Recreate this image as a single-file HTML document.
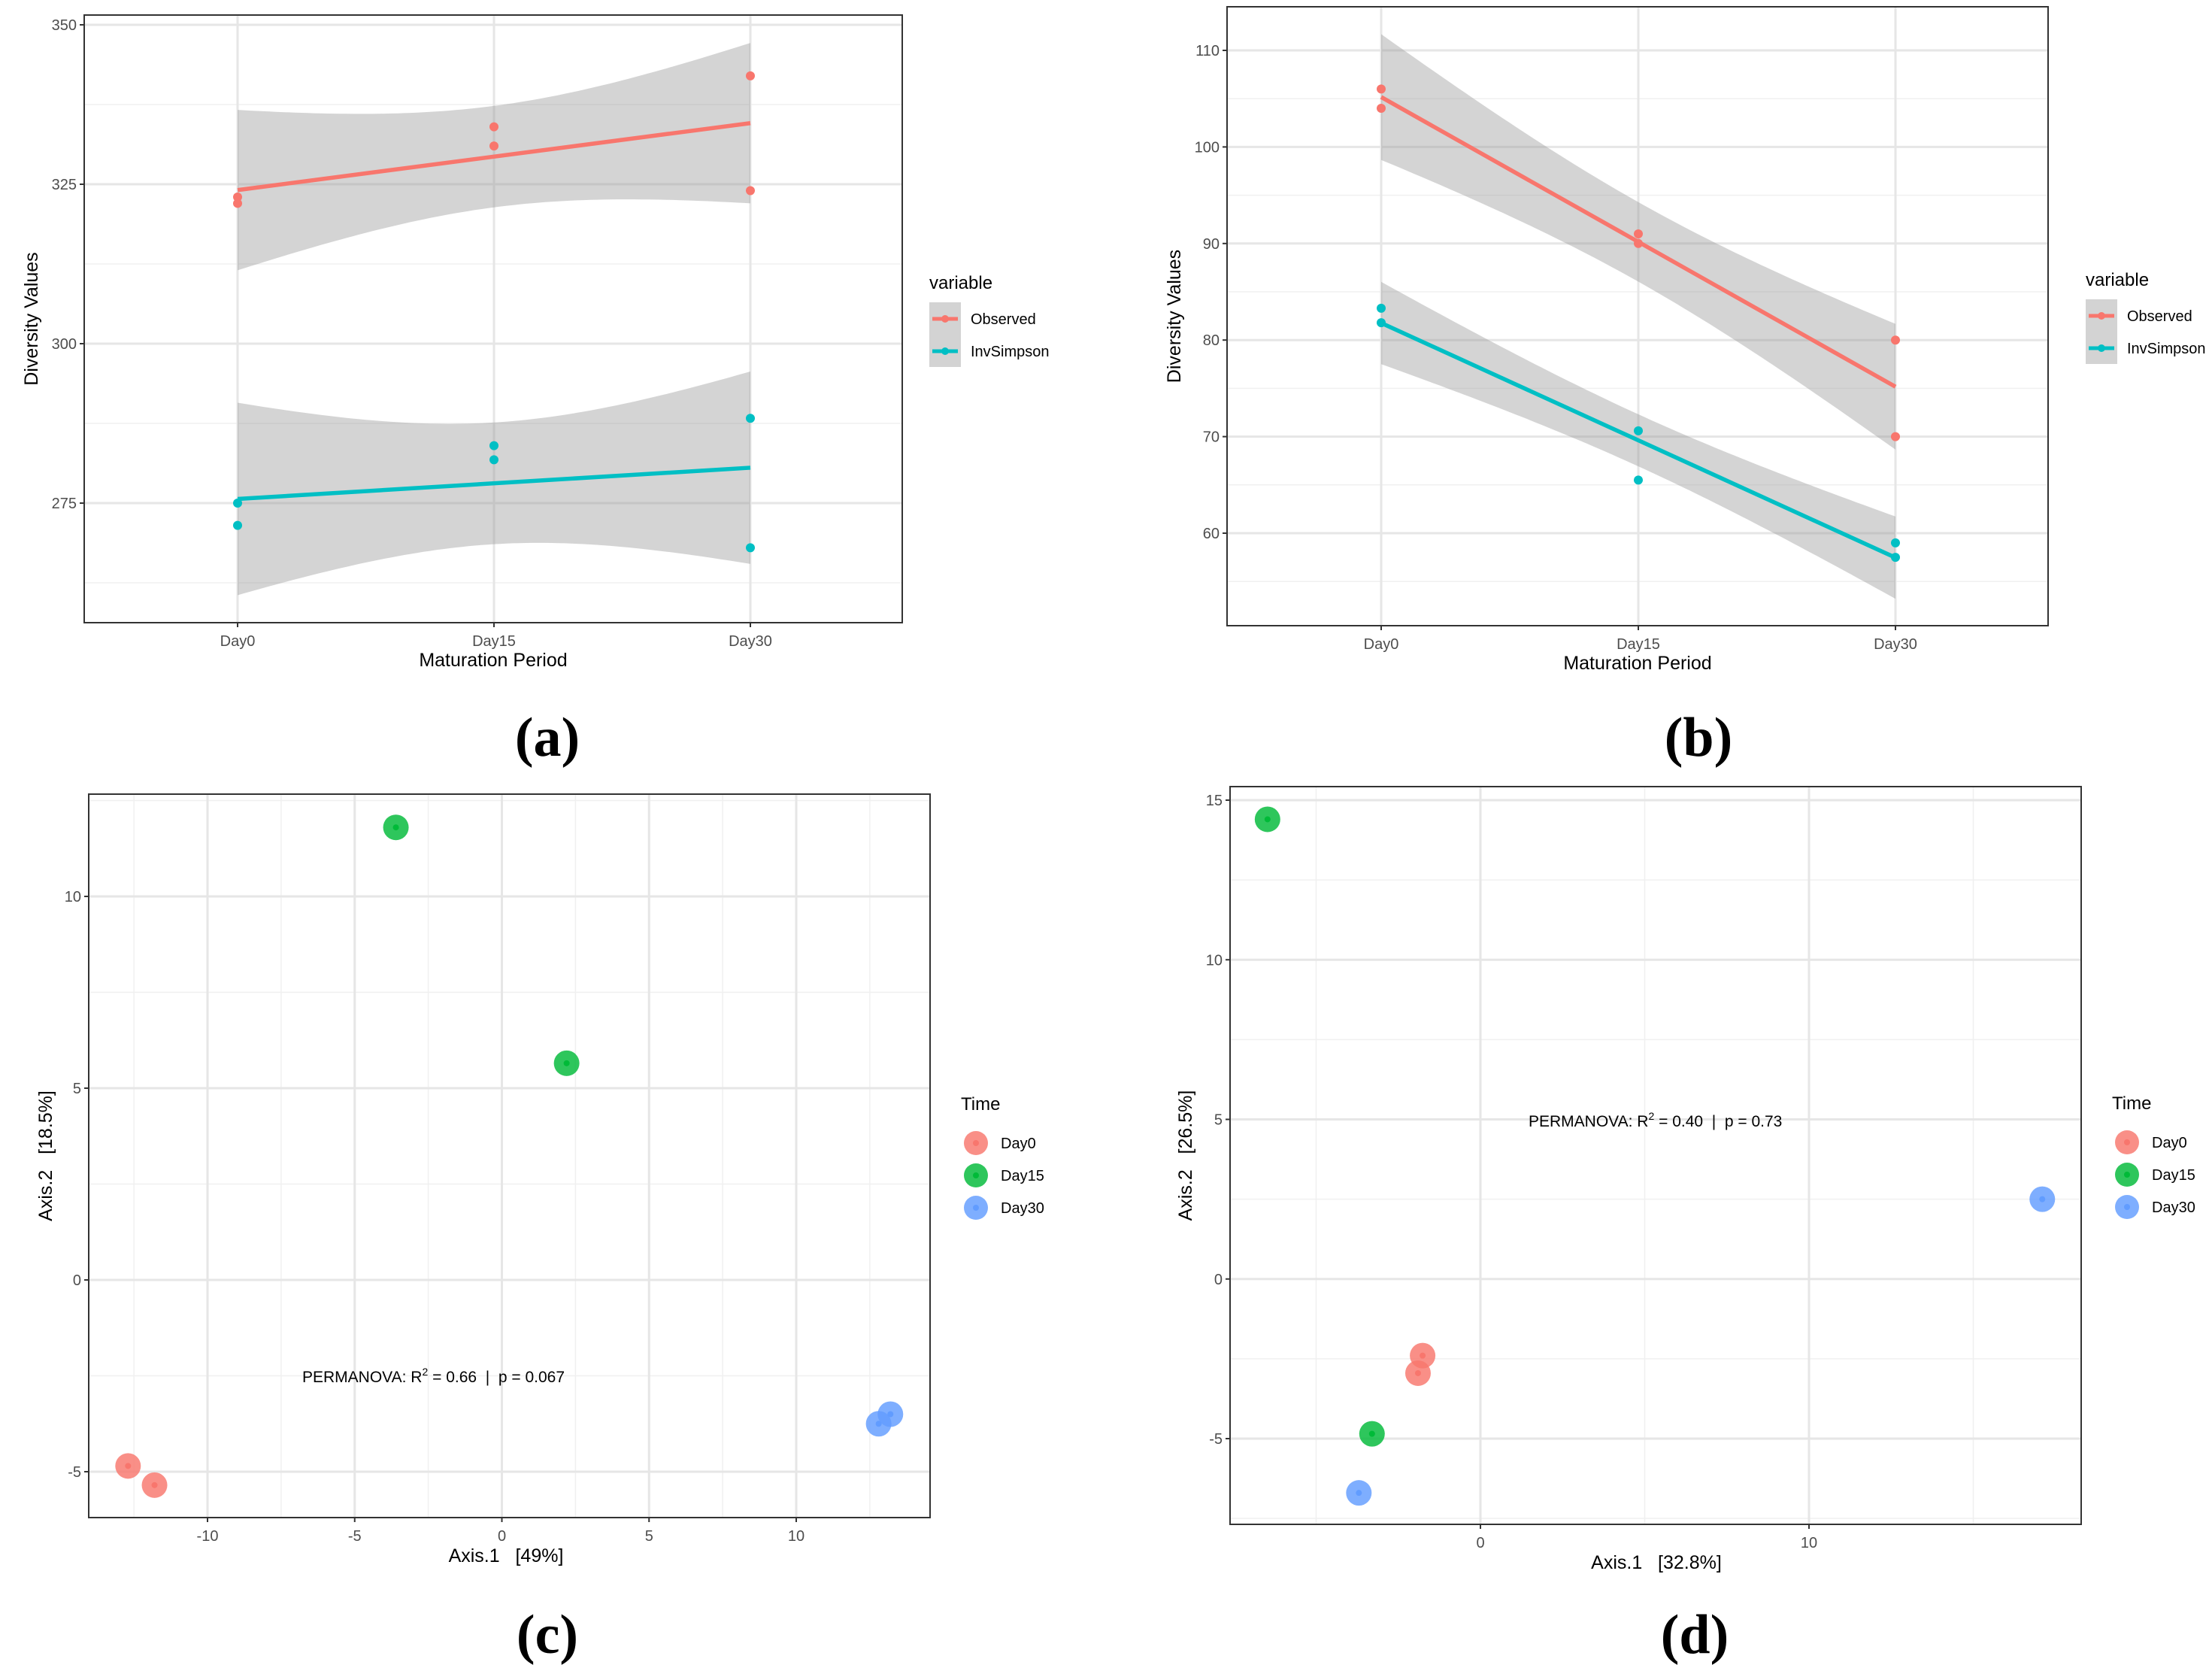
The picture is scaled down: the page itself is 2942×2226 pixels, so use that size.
<!DOCTYPE html>
<html><head><meta charset="utf-8">
<style>
html,body{margin:0;padding:0;background:#fff;}
svg{display:block;font-family:"Liberation Sans",Arial,sans-serif;}
.pre{white-space:pre;}
</style></head>
<body>
<svg id="root" width="2942" height="2226" viewBox="0 0 2942 2226" xmlns="http://www.w3.org/2000/svg"></svg>
<script>
// ---------- Data ----------
const days = ["Day0","Day15","Day30"];
const aObsX = [0,0,1,1,2,2];
const aObsY = [323,322,334,331,342,324];
const aInvY = [275,271.5,284,281.8,288.3,268];
const bObsY = [106,104,91,90,80,70];
const bInvY = [83.3,81.8,70.6,65.5,59,57.5];
const aTicks = [275,300,325,350];
const bTicks = [60,70,80,90,100,110];
const cGroup = ["Day0","Day0","Day15","Day15","Day30","Day30"];
const cAx1 = [-12.7,-11.8,-3.6,2.2,12.8,13.2];
const cAx2 = [-4.85,-5.35,11.8,5.65,-3.75,-3.5];
const dGroup = ["Day0","Day0","Day15","Day15","Day30","Day30"];
const dAx1 = [-1.76,-1.9,-6.48,-3.3,17.1,-3.7];
const dAx2 = [-2.4,-2.95,14.4,-4.85,2.5,-6.7];
const cXTicks = [-10,-5,0,5,10];
const cYTicks = [-5,0,5,10];
const dXTicks = [0,10];
const dYTicks = [-5,0,5,10,15];

const NS="http://www.w3.org/2000/svg";
const root=document.getElementById('root');
function el(tag,attrs,parent){const e=document.createElementNS(NS,tag);for(const k in attrs)e.setAttribute(k,attrs[k]);(parent||root).appendChild(e);return e;}
function txt(s,attrs,parent){const e=el('text',attrs,parent);e.textContent=s;return e;}
const COL={Observed:"#F8766D",InvSimpson:"#00BFC4",Day0:"#F8766D",Day15:"#00BA38",Day30:"#619CFF"};

function linScale(d0,d1,r0,r1){return v=>r0+(v-d0)/(d1-d0)*(r1-r0);}

const tTable={1:12.706,2:4.303,3:3.182,4:2.776,5:2.571,6:2.447,7:2.365,8:2.306};
function fit(xs,ys){
  const n=xs.length;const mx=xs.reduce((a,b)=>a+b)/n;const my=ys.reduce((a,b)=>a+b)/n;
  let sxx=0,sxy=0;for(let i=0;i<n;i++){sxx+=(xs[i]-mx)**2;sxy+=(xs[i]-mx)*(ys[i]-my);}
  const b=sxy/sxx,a=my-b*mx;let ss=0;for(let i=0;i<n;i++)ss+=(ys[i]-a-b*xs[i])**2;
  const s=Math.sqrt(ss/(n-2));const t=tTable[n-2]||1.96;
  return {a,b,ci:x=>t*s*Math.sqrt(1/n+(x-mx)**2/sxx)};
}

function panelBox(g,L,T,R,B){el('rect',{x:L,y:T,width:R-L,height:B-T,fill:'#fff',stroke:'none'},g);}
function frame(g,L,T,R,B,name){const f=el('rect',{x:L,y:T,width:R-L,height:B-T,fill:'none',stroke:'#333',"stroke-width":2},g);}

function linePanel(cfg){
  const g=el('g',{});
  
  
  const {L,T,R,B}=cfg;
  const xs=linScale(0,2,cfg.x0,cfg.x2);
  const ys=linScale(cfg.tk0,cfg.tk1,cfg.ytk0,cfg.ytk1);
  panelBox(g,L,T,R,B);
  const step=cfg.ticks[1]-cfg.ticks[0];
  for(let v=cfg.ticks[0]-step*2;v<=cfg.ticks[cfg.ticks.length-1]+step*2;v+=step){
    const y=ys(v+step/2); if(y>T&&y<B){el('line',{x1:L,x2:R,y1:y,y2:y,stroke:'#f0f0f0','stroke-width':1.5},g);}
  }
  cfg.ticks.forEach(v=>{const y=ys(v);el('line',{x1:L,x2:R,y1:y,y2:y,stroke:'#e6e6e6','stroke-width':3},g);});
  days.forEach((d,i)=>{const x=xs(i);el('line',{x1:x,x2:x,y1:T,y2:B,stroke:'#e6e6e6','stroke-width':3},g);});
  cfg.series.forEach(s=>{
    const f=fit(aObsX,s.y);
    let up=[],lo=[];
    for(let k=0;k<=80;k++){const x=2*k/80;const m=f.a+f.b*x;const c=f.ci(x);up.push(xs(x).toFixed(1)+','+ys(m+c).toFixed(1));lo.unshift(xs(x).toFixed(1)+','+ys(m-c).toFixed(1));}
    const rb=el('polygon',{points:up.concat(lo).join(' '),fill:'#999999','fill-opacity':0.42},g);
    
    
  });
  cfg.series.forEach(s=>{
    const f=fit(aObsX,s.y);
    const ln=el('line',{x1:xs(0),y1:ys(f.a),x2:xs(2),y2:ys(f.a+2*f.b),stroke:COL[s.key],'stroke-width':5.5},g);
    
    
    s.y.forEach((v,i)=>{
      const p=el('circle',{cx:xs(aObsX[i]),cy:ys(v),r:6,fill:COL[s.key]},g);
      
      
    });
  });
  frame(g,L,T,R,B,'plot-frame');
  cfg.ticks.forEach(v=>{const y=ys(v);el('line',{x1:L-6,x2:L,y1:y,y2:y,stroke:'#333','stroke-width':2},g);
    const t=txt(String(v),{x:L-10,y:y+7,'text-anchor':'end','font-size':20,fill:'#4d4d4d'},g);
    });
  days.forEach((d,i)=>{const x=xs(i);el('line',{x1:x,x2:x,y1:B,y2:B+6,stroke:'#333','stroke-width':2},g);
    const t=txt(d,{x:x,y:B+31,'text-anchor':'middle','font-size':20,fill:'#4d4d4d'},g);
    });
  const xt=txt('Maturation Period',{x:(L+R)/2,y:B+58,'text-anchor':'middle','font-size':25,fill:'#000'},g);
  
  const cy=(T+B)/2;
  const yt=txt('Diversity Values',{x:cfg.ylabX,y:cy,'text-anchor':'middle','font-size':25,fill:'#000',transform:`rotate(-90 ${cfg.ylabX} ${cy})`},g);
  
  const lg=el('g',{},g);
  txt('variable',{x:cfg.legX,y:cfg.legY,'font-size':24,fill:'#000'},lg);
  el('rect',{x:cfg.legX,y:cfg.legY+18,width:42,height:86,fill:'#d3d3d3'},lg);
  cfg.series.forEach((s,i)=>{const yy=cfg.legY+40+i*43;
    const e=el('g',{},lg);
    el('line',{x1:cfg.legX+4,x2:cfg.legX+38,y1:yy,y2:yy,stroke:COL[s.key],'stroke-width':5},e);
    el('circle',{cx:cfg.legX+21,cy:yy,r:5,fill:COL[s.key]},e);
    txt(s.key,{x:cfg.legX+55,y:yy+7,'font-size':20,fill:'#000'},e);});
  const pl=txt(cfg.label,{x:cfg.labX,y:1005,'text-anchor':'middle','font-size':74,'font-weight':'bold','font-family':'"Liberation Serif",serif',fill:'#000'},g);
  
}

linePanel({name:'panel-a-alpha-diversity',L:112,T:20,R:1200,B:828,x0:316,x2:998,tk0:275,tk1:350,ytk0:669,ytk1:33,ticks:aTicks,
  series:[{key:'Observed',y:aObsY},{key:'InvSimpson',y:aInvY}],ylabX:50,legX:1236,legY:384,label:'(a)',labX:728});
linePanel({name:'panel-b-alpha-diversity',L:1632,T:9,R:2724,B:832,x0:1837,x2:2521,tk0:60,tk1:110,ytk0:709,ytk1:67,ticks:bTicks,
  series:[{key:'Observed',y:bObsY},{key:'InvSimpson',y:bInvY}],ylabX:1570,legX:2774,legY:380,label:'(b)',labX:2259});

function pcoaPanel(cfg){
  const g=el('g',{});
  
  
  const {L,T,R,B}=cfg;
  const xs=linScale(cfg.xa,cfg.xb,cfg.pxa,cfg.pxb);
  const ys=linScale(cfg.ya,cfg.yb,cfg.pya,cfg.pyb);
  panelBox(g,L,T,R,B);
  const xst=cfg.xt[1]-cfg.xt[0], yst=cfg.yt[1]-cfg.yt[0];
  for(let v=cfg.xt[0]-xst*3+xst/2;v<cfg.xt[cfg.xt.length-1]+xst*3;v+=xst){const x=xs(v);if(x>L&&x<R)el('line',{x1:x,x2:x,y1:T,y2:B,stroke:'#f0f0f0','stroke-width':1.5},g);}
  for(let v=cfg.yt[0]-yst*3+yst/2;v<cfg.yt[cfg.yt.length-1]+yst*3;v+=yst){const y=ys(v);if(y>T&&y<B)el('line',{x1:L,x2:R,y1:y,y2:y,stroke:'#f0f0f0','stroke-width':1.5},g);}
  cfg.xt.forEach(v=>{const x=xs(v);el('line',{x1:x,x2:x,y1:T,y2:B,stroke:'#e6e6e6','stroke-width':3},g);});
  cfg.yt.forEach(v=>{const y=ys(v);el('line',{x1:L,x2:R,y1:y,y2:y,stroke:'#e6e6e6','stroke-width':3},g);});
  const pm=txt('',{x:cfg.pmX,y:cfg.pmY,'font-size':21,fill:'#000',class:'pre'},g);
  
  const t1=document.createElementNS(NS,'tspan');t1.textContent='PERMANOVA: R';pm.appendChild(t1);
  const t2=document.createElementNS(NS,'tspan');t2.setAttribute('dy','-9');t2.setAttribute('font-size','14');t2.textContent='2';pm.appendChild(t2);
  const t3=document.createElementNS(NS,'tspan');t3.setAttribute('dy','9');t3.textContent=cfg.pmText;pm.appendChild(t3);
  cfg.ax1.forEach((v,i)=>{
    const c=COL[cfg.grp[i]];
    const p=el('g',{},g);
    el('circle',{cx:xs(v),cy:ys(cfg.ax2[i]),r:17,fill:c,'fill-opacity':0.82},p);
    el('circle',{cx:xs(v),cy:ys(cfg.ax2[i]),r:4,fill:c},p);
  });
  frame(g,L,T,R,B,'plot-frame');
  cfg.yt.forEach(v=>{const y=ys(v);el('line',{x1:L-6,x2:L,y1:y,y2:y,stroke:'#333','stroke-width':2},g);
    const t=txt(String(v),{x:L-10,y:y+7,'text-anchor':'end','font-size':20,fill:'#4d4d4d'},g);
    });
  cfg.xt.forEach(v=>{const x=xs(v);el('line',{x1:x,x2:x,y1:B,y2:B+6,stroke:'#333','stroke-width':2},g);
    const t=txt(String(v),{x:x,y:B+31,'text-anchor':'middle','font-size':20,fill:'#4d4d4d'},g);
    });
  const xt=txt(cfg.xlab,{x:cfg.xlabX,y:B+59,'text-anchor':'middle','font-size':25,fill:'#000',class:'pre'},g);
  
  const cy=(T+B)/2;
  const yt=txt(cfg.ylab,{x:cfg.ylabX,y:cy,'text-anchor':'middle','font-size':25,fill:'#000',class:'pre',transform:`rotate(-90 ${cfg.ylabX} ${cy})`},g);
  
  const lg=el('g',{},g);
  txt('Time',{x:cfg.legX,y:cfg.legY,'font-size':24,fill:'#000'},lg);
  days.forEach((d,i)=>{const yy=cfg.legY+44+i*43;
    const e=el('g',{},lg);
    el('circle',{cx:cfg.legX+20,cy:yy,r:16,fill:COL[d],'fill-opacity':0.82},e);
    el('circle',{cx:cfg.legX+20,cy:yy,r:4,fill:COL[d]},e);
    txt(d,{x:cfg.legX+53,y:yy+7,'font-size':20,fill:'#000'},e);});
  const pl=txt(cfg.label,{x:cfg.labX,y:2198,'text-anchor':'middle','font-size':74,'font-weight':'bold','font-family':'"Liberation Serif",serif',fill:'#000'},g);
  
}
pcoaPanel({name:'panel-c-pcoa',L:118,T:1056,R:1237,B:2018,xa:-10,xb:10,pxa:276,pxb:1059,ya:-5,yb:10,pya:1957,pyb:1192,
  xt:cXTicks,yt:cYTicks,ax1:cAx1,ax2:cAx2,grp:cGroup,pmX:402,pmY:1838,pmText:' = 0.66  |  p = 0.067',
  xlab:'Axis.1   [49%]',xlabX:673,ylab:'Axis.2   [18.5%]',ylabX:69,legX:1278,legY:1476,label:'(c)',labX:728});
pcoaPanel({name:'panel-d-pcoa',L:1636,T:1046,R:2768,B:2027,xa:0,xb:10,pxa:1969,pxb:2406,ya:-5,yb:15,pya:1913,pyb:1064,
  xt:dXTicks,yt:dYTicks,ax1:dAx1,ax2:dAx2,grp:dGroup,pmX:2033,pmY:1498,pmText:' = 0.40  |  p = 0.73',
  xlab:'Axis.1   [32.8%]',xlabX:2203,ylab:'Axis.2   [26.5%]',ylabX:1585,legX:2809,legY:1475,label:'(d)',labX:2254});
</script>
</body></html>
